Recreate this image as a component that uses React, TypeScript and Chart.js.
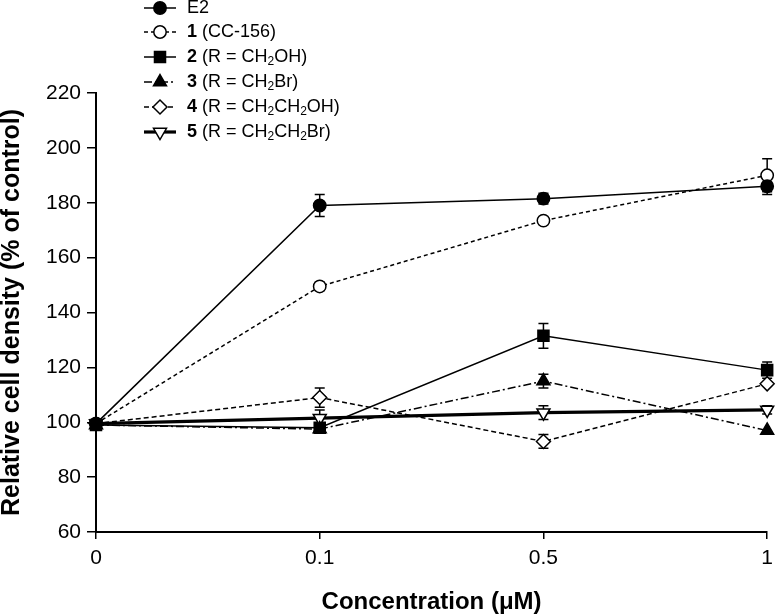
import React, { useEffect, useRef } from 'react';
import { Chart, registerables } from 'chart.js';
import { drawPoint } from 'chart.js/helpers';

Chart.register(...registerables);

// ---- data ----
const categories = ['0', '0.1', '0.5', '1'];

const e2Values = [99.5, 179, 181.5, 186];
const e2Errors = [0, 4, 2, 3];
const c1Values = [99.5, 149.5, 173.5, 190];
const c1Errors = [0, 1.5, 1, 6];
const c2Values = [99, 98, 131.5, 119];
const c2Errors = [0, 0, 4.5, 3];
const c3Values = [99, 97.5, 115, 97];
const c3Errors = [0, 1.5, 2.5, 0];
const c4Values = [99.5, 109, 93, 114];
const c4Errors = [0, 3.5, 2.5, 0];
const c5Values = [99.5, 101.5, 103.5, 104.5];
const c5Errors = [0, 3, 2.5, 1.5];

const yMin = 60;
const yMax = 220;
const yStep = 20;

const seriesLabels = ['E2', '1 (CC-156)', '2 (R = CH2OH)', '3 (R = CH2Br)', '4 (R = CH2CH2OH)', '5 (R = CH2CH2Br)'];

// legend rich text: [text, style] style: 'b' bold, 's' subscript, '' normal
const legendRich: [string, string][][] = [
  [['E2', '']],
  [['1', 'b'], [' (CC-156)', '']],
  [['2', 'b'], [' (R = CH', ''], ['2', 's'], ['OH)', '']],
  [['3', 'b'], [' (R = CH', ''], ['2', 's'], ['Br)', '']],
  [['4', 'b'], [' (R = CH', ''], ['2', 's'], ['CH', ''], ['2', 's'], ['OH)', '']],
  [['5', 'b'], [' (R = CH', ''], ['2', 's'], ['CH', ''], ['2', 's'], ['Br)', '']],
];

const FONT = "'Liberation Sans', Arial, Helvetica, sans-serif";

const errorBarPlugin = {
  id: 'errorBars',
  beforeDatasetsDraw(chart: any) {
    const ctx = chart.ctx;
    const ys = chart.scales.y;
    ctx.save();
    ctx.strokeStyle = '#000';
    ctx.lineWidth = 1.5;
    ctx.setLineDash([]);
    chart.data.datasets.forEach((ds: any, i: number) => {
      const meta = chart.getDatasetMeta(i);
      meta.data.forEach((pt: any, j: number) => {
        const e = ds.errors ? ds.errors[j] : 0;
        if (!e) return;
        const v = ds.data[j];
        const top = ys.getPixelForValue(v + e);
        const bot = ys.getPixelForValue(v - e);
        const x = pt.x;
        ctx.beginPath();
        ctx.moveTo(x, top);
        ctx.lineTo(x, bot);
        ctx.moveTo(x - 5, top);
        ctx.lineTo(x + 5, top);
        ctx.moveTo(x - 5, bot);
        ctx.lineTo(x + 5, bot);
        ctx.stroke();
      });
    });
    ctx.restore();
  },
};

const legendPlugin = {
  id: 'richLegend',
  afterDraw(chart: any) {
    const ctx = chart.ctx;
    const rowsY = [8, 32, 57, 82, 107, 132];
    ctx.save();
    chart.data.datasets.forEach((ds: any, i: number) => {
      const y = rowsY[i];
      ctx.strokeStyle = '#000';
      ctx.lineWidth = ds.borderWidth;
      ctx.setLineDash(ds.borderDash || []);
      ctx.beginPath();
      ctx.moveTo(144, y);
      ctx.lineTo(176, y);
      ctx.stroke();
      ctx.setLineDash([]);
      ctx.fillStyle = ds.pointBackgroundColor;
      ctx.strokeStyle = '#000';
      ctx.lineWidth = 1.5;
      drawPoint(ctx, {
        pointStyle: ds.pointStyle,
        radius: ds.pointRadius,
        rotation: ds.pointRotation || 0,
        borderWidth: 1.5,
      }, 160, y);
      let x = 187;
      ctx.fillStyle = '#000';
      ctx.textBaseline = 'middle';
      ctx.textAlign = 'left';
      legendRich[i].forEach(([t, s]) => {
        if (s === 's') {
          ctx.font = `12px ${FONT}`;
          ctx.fillText(t, x, y + 5);
        } else {
          ctx.font = `${s === 'b' ? 'bold ' : ''}18px ${FONT}`;
          ctx.fillText(t, x, y);
        }
        x += ctx.measureText(t).width;
      });
    });
    ctx.restore();
  },
};

function makeDataset(label: string, data: number[], errors: number[], style: any) {
  return {
    label,
    data,
    errors,
    borderColor: '#000',
    pointBorderColor: '#000',
    pointBorderWidth: 1.5,
    tension: 0,
    fill: false,
    ...style,
  };
}

export default function App() {
  const ref = useRef<HTMLCanvasElement | null>(null);

  useEffect(() => {
    if (!ref.current) return;
    const chart = new Chart(ref.current, {
      type: 'line',
      data: {
        labels: categories,
        datasets: [
          makeDataset(seriesLabels[0], e2Values, e2Errors, {
            borderWidth: 1.5, borderDash: [], pointStyle: 'circle', pointRadius: 6.2, pointBackgroundColor: '#000',
          }),
          makeDataset(seriesLabels[1], c1Values, c1Errors, {
            borderWidth: 1.5, borderDash: [4, 3], pointStyle: 'circle', pointRadius: 6.2, pointBackgroundColor: '#fff',
          }),
          makeDataset(seriesLabels[2], c2Values, c2Errors, {
            borderWidth: 1.5, borderDash: [], pointStyle: 'rect', pointRadius: 7.8, pointBackgroundColor: '#000', order: 2,
          }),
          makeDataset(seriesLabels[3], c3Values, c3Errors, {
            borderWidth: 1.5, borderDash: [8, 3, 2, 3], pointStyle: 'triangle', pointRadius: 7.5, pointBackgroundColor: '#000', order: -1,
          }),
          makeDataset(seriesLabels[4], c4Values, c4Errors, {
            borderWidth: 1.5, borderDash: [5, 3], pointStyle: 'rectRot', pointRadius: 7, pointBackgroundColor: '#fff',
          }),
          makeDataset(seriesLabels[5], c5Values, c5Errors, {
            borderWidth: 3.2, borderDash: [], pointStyle: 'triangle', pointRotation: 180, pointRadius: 7.5, pointBackgroundColor: '#fff',
          }),
        ],
      },
      options: {
        responsive: false,
        animation: false,
        layout: { padding: { top: 93, right: 10, left: 0, bottom: 0 } },
        plugins: {
          legend: { display: false },
          tooltip: { enabled: false },
        },
        scales: {
          x: {
            type: 'category',
            offset: false,
            afterFit: (s: any) => { s.height = 82; },
            grid: { drawOnChartArea: false, drawTicks: true, tickLength: 7, color: '#000', lineWidth: 1.5 },
            border: { display: true, color: '#000', width: 2 },
            ticks: { color: '#000', font: { family: FONT, size: 21 }, padding: 7, maxRotation: 0 },
            title: {
              display: true,
              text: 'Concentration (μM)',
              color: '#000',
              font: { family: FONT, size: 24, weight: 'bold', lineHeight: 1 },
              padding: { top: 0, bottom: 0 },
            },
          },
          y: {
            min: yMin,
            max: yMax,
            afterFit: (s: any) => { s.width = 96; },
            grid: { drawOnChartArea: false, drawTicks: true, tickLength: 9, color: '#000', lineWidth: 1.5 },
            border: { display: true, color: '#000', width: 2 },
            ticks: { stepSize: yStep, color: '#000', font: { family: FONT, size: 21 }, padding: 6 },
            title: {
              display: true,
              text: 'Relative cell density (% of control)',
              color: '#000',
              font: { family: FONT, size: 25, weight: 'bold', lineHeight: 1 },
              padding: { top: 0, bottom: 0 },
            },
          },
        },
      },
      plugins: [errorBarPlugin, legendPlugin],
    } as any);
    return () => chart.destroy();
  }, []);

  return (
    <div style={{ position: 'fixed', left: 0, top: 0, width: 780, height: 614, background: '#fff' }}>
      <canvas ref={ref} width={780} height={614} />
    </div>
  );
}
